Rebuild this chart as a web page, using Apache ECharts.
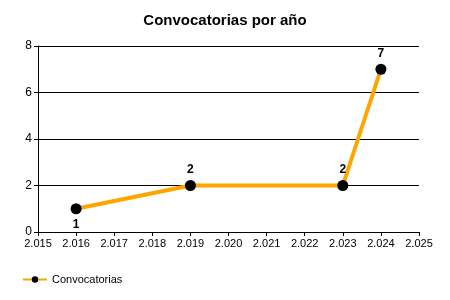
<!DOCTYPE html>
<html><head><meta charset="utf-8">
<script src="https://cdn.jsdelivr.net/npm/echarts@6/dist/echarts.min.js"></script>
<style>html,body{margin:0;padding:0;background:#fff}#c{width:450px;height:300px}</style>
</head><body><div id="c"></div>
<script>
const years = [2016, 2019, 2023, 2024];
const counts = [1, 2, 2, 7];
const labelPos = ['bottom', 'top', 'top', 'top'];
const title = 'Convocatorias por año';
const seriesName = 'Convocatorias';

const fmt = v => { const s = String(v); return s.slice(0,1) + '.' + s.slice(1); };
const chart = echarts.init(document.getElementById('c'));
chart.setOption({
  animation: false,
  textStyle: { fontFamily: 'Liberation Sans, Arial, sans-serif' },
  title: { text: title, left: 'center', top: 8, textStyle: { fontSize: 15, fontWeight: 'bold', color: '#000', fontFamily: 'Liberation Sans, Arial, sans-serif' } },
  legend: { left: 17, top: 269, itemWidth: 24, itemHeight: 8, itemGap: 4, textStyle: { fontSize: 11, color: '#000' }, data: [seriesName] },
  grid: { left: 38, right: 31, top: 46, bottom: 68 },
  xAxis: {
    type: 'value', min: 2015, max: 2025, interval: 1,
    axisLine: { lineStyle: { color: '#000', width: 1 } },
    axisTick: { show: true, length: 4, lineStyle: { color: '#000' } },
    axisLabel: { formatter: fmt, color: '#000', fontSize: 11, margin: 6 },
    splitLine: { show: false }
  },
  yAxis: {
    type: 'value', min: 0, max: 8, interval: 2,
    axisLine: { show: true, lineStyle: { color: '#000', width: 1 } },
    axisTick: { show: true, length: 4, lineStyle: { color: '#000' } },
    axisLabel: { color: '#000', fontSize: 12, margin: 6 },
    splitLine: { show: true, lineStyle: { color: '#000', width: 1 } }
  },
  series: [{
    name: seriesName, type: 'line',
    data: years.map((y, i) => ({ value: [y, counts[i]], label: { position: labelPos[i] } })),
    lineStyle: { color: '#FFA500', width: 4 },
    itemStyle: { color: '#000' },
    symbol: 'circle', symbolSize: 11,
    label: { show: true, color: '#000', fontWeight: 'bold', fontSize: 12, distance: 4 }
  }]
});
</script></body></html>
